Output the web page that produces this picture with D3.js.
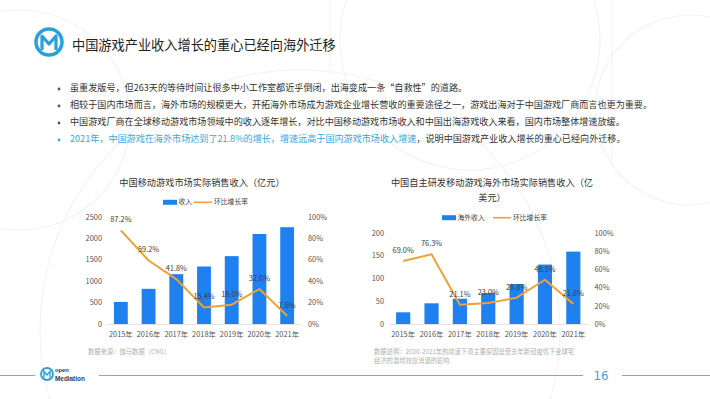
<!DOCTYPE html>
<html>
<head>
<meta charset="utf-8">
<script src="https://cdn.jsdelivr.net/npm/d3@7"></script>
<style>
  html, body { margin: 0; padding: 0; background: #fff; }
  svg { display: block; font-family: "Noto Sans CJK SC", "Noto Sans", sans-serif; }
</style>
</head>
<body>
<div id="page"></div>
<script>
// ---- data ----
const years = ['2015年', '2016年', '2017年', '2018年', '2019年', '2020年', '2021年'];

const domesticRevenue = [514.6, 819.2, 1161.2, 1339.6, 1581.1, 2096.8, 2255.4];
const domesticGrowth = [87.2, 59.2, 41.8, 15.4, 18.0, 32.6, 7.6];
const domesticTicks = [0, 500, 1000, 1500, 2000, 2500];

const overseasRevenue = [25.6, 45.3, 55.4, 68.0, 87.6, 130.2, 158.6];
const overseasGrowth = [69.0, 76.3, 21.1, 23.0, 28.8, 48.5, 21.8];
const overseasTicks = [0, 50, 100, 150, 200];

const pctTicks = [0, 20, 40, 60, 80, 100];

const bullets = [
    [{ t: '虽重发版号，但263天的等待时间让很多中小工作室都近乎倒闭，出海变成一条“自救性”的道路。' }],
    [{ t: '相较于国内市场而言，海外市场的规模更大，开拓海外市场成为游戏企业增长营收的重要途径之一，游戏出海对于中国游戏厂商而言也更为重要。' }],
    [{ t: '中国游戏厂商在全球移动游戏市场领域中的收入逐年增长，对比中国移动游戏市场收入和中国出海游戏收入来看，国内市场整体增速放缓。' }],
    [{ t: '2021年，中国游戏在海外市场达到了21.8%的增长，', hi: true },
     { t: '增速远高于国内游戏市场收入增速', hi: true },
     { t: '，说明中国游戏产业收入增长的重心已经向外迁移。' }]
];

const W = 710, H = 399;
const BLUE = '#1f80f0', ORANGE = '#f0a135', LOGO = '#2a9fd8';

const svg = d3.select('#page').append('svg')
    .attr('width', W).attr('height', H);

// faint background decoration
const deco = svg.append('g').attr('fill', 'none').attr('stroke', '#f1f3f6').attr('stroke-width', 1.2);
deco.append('circle').attr('cx', 690).attr('cy', 110).attr('r', 95);
deco.append('circle').attr('cx', 470).attr('cy', 40).attr('r', 130);
deco.append('circle').attr('cx', 300).attr('cy', 330).attr('r', 260);
deco.append('circle').attr('cx', 20).attr('cy', 120).attr('r', 110);
deco.append('line').attr('x1', 612).attr('y1', 0).attr('x2', 612).attr('y2', 165);
deco.append('line').attr('x1', 330).attr('y1', 0).attr('x2', 330).attr('y2', 70);

// ---- header ----
const logo = svg.append('g').attr('transform', 'translate(49,42)');
logo.append('circle').attr('r', 13).attr('fill', 'none').attr('stroke', LOGO).attr('stroke-width', 3.5);
logo.append('path')
    .attr('d', 'M-7,8 L-7,-6 L0,2 L7,-6 L7,8')
    .attr('fill', 'none').attr('stroke', LOGO).attr('stroke-width', 3.2).attr('stroke-linejoin', 'round');

svg.append('text')
    .attr('x', 72).attr('y', 46.5)
    .attr('dominant-baseline', 'middle')
    .attr('font-size', 13.2).attr('fill', '#222')
    .text('中国游戏产业收入增长的重心已经向海外迁移');

// ---- bullets ----
const bl = svg.append('g');
bullets.forEach((parts, i) => {
    const y = 89 + i * 17;
    const hi = parts.some(p => p.hi);
    bl.append('circle').attr('cx', 59).attr('cy', y).attr('r', 1.4).attr('fill', hi ? '#3aa6dd' : '#555');
    const t = bl.append('text').attr('x', 70).attr('y', y)
        .attr('dominant-baseline', 'middle').attr('font-size', 9.1);
    parts.forEach(p => t.append('tspan').attr('fill', p.hi ? '#3aa6dd' : '#333').text(p.t));
});

// ---- combo chart ----
function drawCombo(cfg) {
    const g = svg.append('g');
    const x = d3.scaleBand().domain(years).range([cfg.x0, cfg.x1]).paddingInner(0.5).paddingOuter(0.25);
    const y = d3.scaleLinear().domain([0, cfg.yMax]).range([cfg.bottom, cfg.top]);
    const y2 = d3.scaleLinear().domain([0, 100]).range([cfg.bottom, cfg.top]);

    // title
    cfg.title.forEach((line, i) => {
        g.append('text').attr('x', cfg.titleX).attr('y', cfg.titleY + i * 15.5)
            .attr('text-anchor', 'middle').attr('dominant-baseline', 'middle')
            .attr('font-size', 9.2).attr('fill', '#333').text(line);
    });

    // legend
    const lg = g.append('g').attr('transform', `translate(${cfg.legendX},${cfg.legendY})`);
    lg.append('rect').attr('x', 0).attr('y', -2.5).attr('width', 14).attr('height', 5).attr('fill', BLUE);
    lg.append('text').attr('x', 15.5).attr('y', 0).attr('dominant-baseline', 'middle')
        .attr('font-size', 6.8).attr('fill', '#444').text(cfg.barName);
    const lx = cfg.legendLineX;
    lg.append('line').attr('x1', lx).attr('x2', lx + 18).attr('y1', 0).attr('y2', 0)
        .attr('stroke', ORANGE).attr('stroke-width', 1.6);
    lg.append('text').attr('x', lx + 20).attr('y', 0).attr('dominant-baseline', 'middle')
        .attr('font-size', 6.8).attr('fill', '#444').text('环比增长率');

    // axes
    const axL = g.append('g').attr('transform', `translate(${cfg.x0 - 5},0)`)
        .call(d3.axisLeft(y).tickValues(cfg.ticks).tickSize(0).tickPadding(0).tickFormat(d3.format('d')));
    const axR = g.append('g').attr('transform', `translate(${cfg.x1 + 7},0)`)
        .call(d3.axisRight(y2).tickValues(pctTicks).tickSize(0).tickPadding(0).tickFormat(d => d + '%'));
    const axB = g.append('g').attr('transform', `translate(0,${cfg.bottom})`)
        .call(d3.axisBottom(x).tickSize(0).tickPadding(8));
    [axL, axR, axB].forEach(a => {
        a.select('.domain').remove();
        a.selectAll('text').attr('font-size', 7.4).attr('fill', '#555')
            .attr('font-family', '"Noto Sans CJK SC", sans-serif');
    });
    g.append('line').attr('x1', cfg.x0).attr('x2', cfg.x1)
        .attr('y1', cfg.bottom + 0.5).attr('y2', cfg.bottom + 0.5)
        .attr('stroke', '#e2e2e2');

    // bars
    g.append('g').selectAll('rect')
        .data(cfg.bars)
        .join('rect')
        .attr('x', (d, i) => x(years[i]))
        .attr('width', x.bandwidth())
        .attr('y', d => y(d))
        .attr('height', d => cfg.bottom - y(d))
        .attr('fill', BLUE);

    // growth line
    const line = d3.line()
        .x((d, i) => x(years[i]) + x.bandwidth() / 2)
        .y(d => y2(d));
    g.append('path').datum(cfg.rate)
        .attr('d', line)
        .attr('fill', 'none').attr('stroke', ORANGE).attr('stroke-width', 2)
        .attr('stroke-linejoin', 'round');

    // data labels
    g.append('g').selectAll('text')
        .data(cfg.rate)
        .join('text')
        .attr('x', (d, i) => x(years[i]) + x.bandwidth() / 2)
        .attr('y', d => y2(d) - 10)
        .attr('text-anchor', 'middle').attr('dominant-baseline', 'middle')
        .attr('font-size', 7.4).attr('fill', '#404040')
        .text(d => d.toFixed(1) + '%');
}

drawCombo({
    x0: 107, x1: 301, top: 216.7, bottom: 324, yMax: 2500, ticks: domesticTicks,
    bars: domesticRevenue, rate: domesticGrowth,
    title: ['中国移动游戏市场实际销售收入（亿元）'], titleX: 202, titleY: 183,
    barName: '收入', legendX: 163, legendY: 202.3, legendLineX: 31
});

drawCombo({
    x0: 389, x1: 587.5, top: 232.7, bottom: 324, yMax: 200, ticks: overseasTicks,
    bars: overseasRevenue, rate: overseasGrowth,
    title: ['中国自主研发移动游戏海外市场实际销售收入（亿', '美元）'], titleX: 492, titleY: 183,
    barName: '海外收入', legendX: 442, legendY: 217.7, legendLineX: 51
});

// ---- footer ----
const ft = svg.append('g').attr('font-size', 6.3).attr('fill', '#b0b0b0');
ft.append('text').attr('x', 88).attr('y', 352).attr('dominant-baseline', 'middle').text('数据来源：伽马数据（CNG）');
ft.append('text').attr('x', 374).attr('y', 352).attr('dominant-baseline', 'middle').text('数据说明：2020-2021年的增速下滑主要原因是受去年新冠疫情下全球宅');
ft.append('text').attr('x', 374).attr('y', 361).attr('dominant-baseline', 'middle').text('经济的激增效应消退的影响');

const fl = svg.append('g').attr('stroke', '#5fb4e2').attr('stroke-width', 1);
fl.append('line').attr('x1', 0).attr('x2', 35).attr('y1', 375.5).attr('y2', 375.5);
fl.append('line').attr('x1', 99).attr('x2', 583).attr('y1', 375.5).attr('y2', 375.5);
fl.append('line').attr('x1', 622).attr('x2', 710).attr('y1', 375.5).attr('y2', 375.5);

const fLogo = svg.append('g').attr('transform', 'translate(47,374)')
    .attr('font-family', '"Liberation Sans", sans-serif');
fLogo.append('circle').attr('r', 6).attr('fill', 'none').attr('stroke', LOGO).attr('stroke-width', 1.8);
fLogo.append('path').attr('d', 'M-3,3.5 L-3,-2.5 L0,1 L3,-2.5 L3,3.5')
    .attr('fill', 'none').attr('stroke', LOGO).attr('stroke-width', 1.4);
fLogo.append('text').attr('x', 8).attr('y', -2).attr('font-size', 5.8)
    .attr('font-weight', 'bold').attr('fill', '#1f3b63').text('open');
fLogo.append('text').attr('x', 8).attr('y', 6.6).attr('font-size', 6.4)
    .attr('font-weight', 'bold').attr('fill', '#1f3b63').text('Mediation');

svg.append('text').attr('x', 601).attr('y', 376).attr('text-anchor', 'middle')
    .attr('dominant-baseline', 'middle').attr('font-size', 13).attr('fill', '#3aa6dd')
    .attr('font-family', '"Liberation Sans Narrow", "DejaVu Sans Condensed", sans-serif')
    .text('16');
</script>
</body>
</html>
